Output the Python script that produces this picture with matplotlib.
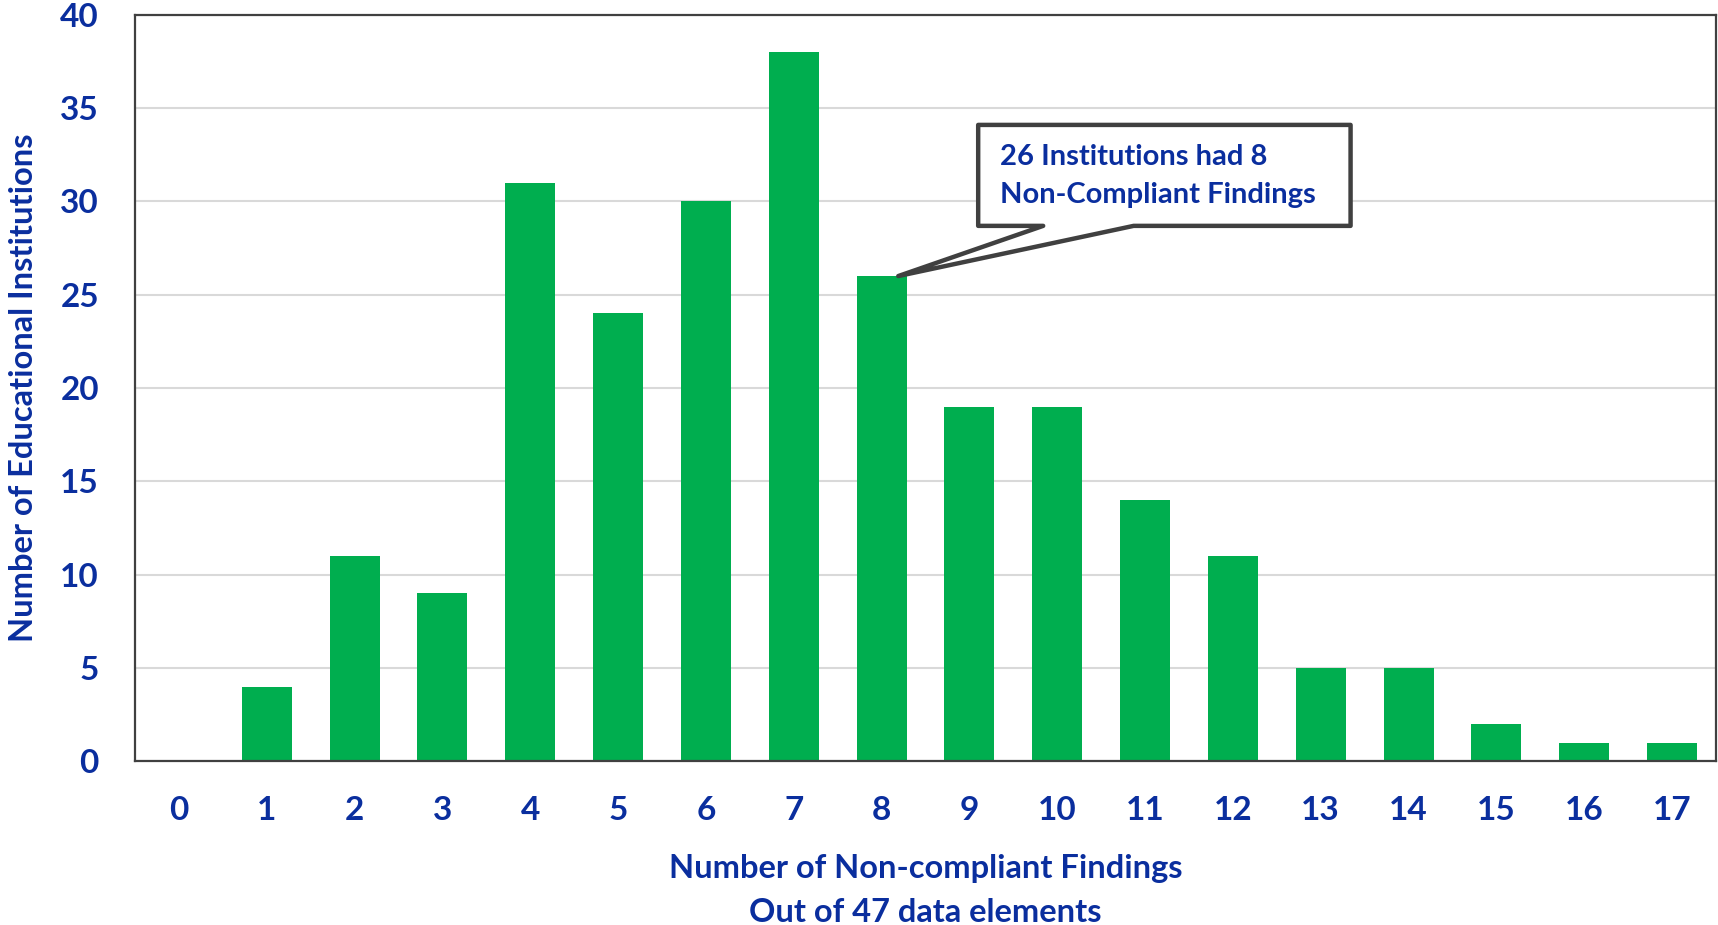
import matplotlib.pyplot as plt
from matplotlib.patches import Polygon

findings = list(range(18))
institutions = [0, 4, 11, 9, 31, 24, 30, 38, 26, 19, 19, 14, 11, 5, 5, 2, 1, 1]
y_ticks = [0, 5, 10, 15, 20, 25, 30, 35, 40]
note = '26 Institutions had 8\nNon-Compliant Findings'

blue = '#0A2E9E'
green = '#00AE4F'
plt.rcParams['font.family'] = ['Lato', 'DejaVu Sans']
plt.rcParams['font.weight'] = 'bold'

fig = plt.figure(figsize=(17.18, 9.25), dpi=100)
ax = fig.add_axes([0.0786, 0.177, 0.9202, 0.807])

ax.bar(findings, institutions, width=0.57, color=green, zorder=2)
ax.set_xlim(-0.5, 17.5)
ax.set_ylim(0, 40)
ax.set_xticks(findings)
ax.set_yticks(y_ticks)
ax.tick_params(axis='both', length=0, labelsize=24, labelcolor=blue)
ax.tick_params(axis='x', pad=25)
ax.tick_params(axis='y', pad=26)
ax.grid(axis='y', color='#D9D9D9', linewidth=1.5, zorder=0)
for s in ax.spines.values():
    s.set_color('#404040')
    s.set_linewidth(1.6)

ax.set_xlabel('Number of Non-compliant Findings\nOut of 47 data elements',
              fontsize=23.5, color=blue, fontweight='bold', labelpad=21,
              linespacing=1.6)
ax.set_ylabel('Number of Educational Institutions', fontsize=23.5, color=blue,
              fontweight='bold', labelpad=16)

# callout box pointing at bar 8
x0, x1, y0, y1 = 9.10, 13.34, 28.69, 34.10
n0, n1 = 9.84, 10.87
tip = (8.19, institutions[8])
pts = [(x0, y0), (x0, y1), (x1, y1), (x1, y0), (n1, y0), tip, (n0, y0)]
ax.add_patch(Polygon(pts, closed=True, facecolor='white', edgecolor='#404040',
                     linewidth=3.2, joinstyle='round', zorder=5, clip_on=False))
ax.text(9.35, 31.35, note, fontsize=21, color=blue, fontweight='bold',
        va='center', ha='left', linespacing=1.55, zorder=6)

fig.savefig('out.png', dpi=100)
